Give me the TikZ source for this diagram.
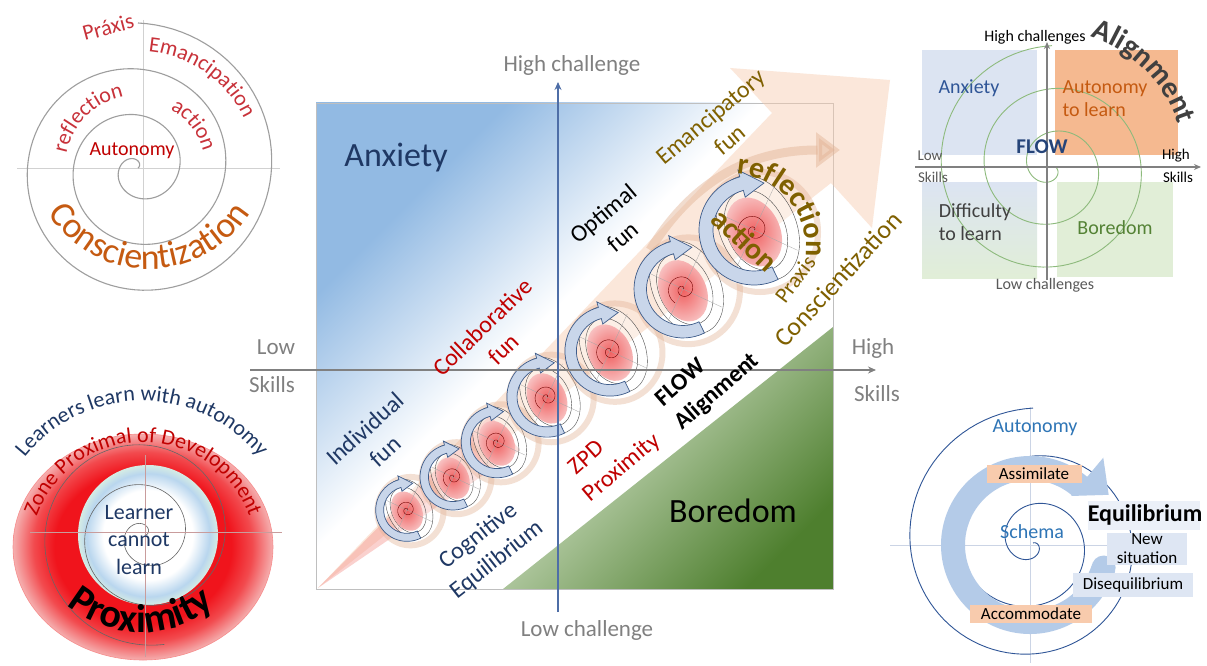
\documentclass[tikz,border=0pt]{standalone}
\usepackage{fontspec}
\setmainfont{Carlito}
\usetikzlibrary{arrows.meta,calc,decorations.text}
\definecolor{cRed}{HTML}{C00000}
\definecolor{cRedT}{HTML}{C8323A}
\definecolor{cOrange}{HTML}{C55A11}
\definecolor{cNavy}{HTML}{1F3864}
\definecolor{cBlueT}{HTML}{2E75B6}
\definecolor{cBlueA}{HTML}{2F5597}
\definecolor{cOlive}{HTML}{7F6000}
\definecolor{cGray}{HTML}{808080}
\definecolor{cDGray}{HTML}{404040}
\definecolor{cGreenT}{HTML}{548235}
\definecolor{qBlue}{HTML}{92BAE3}
\definecolor{qGreenD}{HTML}{4E7F2E}
\definecolor{qGreenL}{HTML}{EEF6E8}
\definecolor{peach}{HTML}{F8CBAD}
\definecolor{tanC}{HTML}{E2B294}
\definecolor{arrowFill}{HTML}{C9D6EA}
\definecolor{arrowLine}{HTML}{3E5C8A}
\definecolor{pinkIn}{HTML}{F06262}
\definecolor{pinkOut}{HTML}{F8C2C2}
\definecolor{pinkCone}{HTML}{F48C86}
\definecolor{bandBlue}{HTML}{B4CBE8}
\definecolor{boxPeach}{HTML}{F8CBAD}
\definecolor{boxBlue}{HTML}{DEE6F3}
\definecolor{ringRed}{HTML}{F0141C}
\definecolor{ringRed2}{HTML}{F24A4E}
\definecolor{ringPink}{HTML}{F5AFAF}
\definecolor{holeBlue}{HTML}{B9D6EE}
\definecolor{holeEdge}{HTML}{D5ECE4}
\definecolor{trBlue}{HTML}{DCE4F2}
\definecolor{trOrange}{HTML}{F5B990}
\definecolor{trGreen}{HTML}{E1EED7}
\definecolor{trSpiral}{HTML}{8DBA7C}
\pgfdeclareradialshading{donut}{\pgfpoint{0bp}{0bp}}{color(0bp)=(ringRed); color(17bp)=(ringRed); color(21bp)=(ringRed2); color(25bp)=(ringPink); color(50bp)=(ringPink)}
\pgfdeclareradialshading{hole}{\pgfpoint{0bp}{0bp}}{color(0bp)=(white); color(16bp)=(white); color(22bp)=(holeBlue); color(25bp)=(holeEdge); color(50bp)=(holeEdge)}
\pgfdeclareverticalshading{bfade}{100bp}{color(0bp)=(white); color(54bp)=(white); color(62bp)=(qBlue!45); color(72bp)=(qBlue); color(100bp)=(qBlue)}
\newcommand\fz[2]{\fontsize{#1}{#2}\selectfont}
\tikzset{
  lbl/.style={inner sep=0pt, align=center},
  xhair/.style={line width=.5pt, draw=black!18},
  mainaxis/.style={line width=1.4pt, -{Stealth[length=8pt,width=7pt]}},
  smallaxis/.style={line width=1.2pt, draw=black!50, -{Stealth[length=7pt,width=6pt]}},
  tagbox/.style={inner sep=0pt, minimum height=18pt, text=black, font=\fz{17}{19}},
  pics/spiralicon/.style={code={
    \draw[tanC, line width=6pt, opacity=.4] (6,-2) ellipse[x radius=58, y radius=60];
    \fill[white, opacity=.35] (4,2) ellipse[x radius=55, y radius=38, rotate=-65];
    \draw[black!70, line width=.4pt] (4,2) ellipse[x radius=55, y radius=38, rotate=-65];
    \draw[black!70, line width=.4pt] (2,0) ellipse[x radius=42, y radius=29, rotate=-65];
    \shade[inner color=pinkIn, outer color=pinkOut] (0,-2) ellipse[x radius=36, y radius=26, rotate=-65];
    \draw[black!35, line width=.3pt, rotate=-25] (-48,0) -- (48,0) (0,-50) -- (0,50);
    \draw[cRed!60!black, line width=.4pt] plot[domain=0:600, samples=80, variable=\t] ({\t/600*18*cos(\t)}, {\t/600*18*sin(\t)});
    \filldraw[fill=arrowFill, draw=arrowLine, line width=.7pt] (-64:55) arc[start angle=-64, end angle=-255, radius=55] -- (-255:62) -- (-282:48) -- (-255:34) -- (-255:41) arc[start angle=-255, end angle=-64, radius=41] -- cycle;
  }}
}
\begin{document}
\begin{tikzpicture}[x=1pt,y=1pt]
\useasboundingbox (0,0) rectangle (1207,-666);
\fill[white] (0,0) rectangle (1207,-666);

%%%%%%%%%%%%%%%% CENTRE %%%%%%%%%%%%%%%%
\shade[shading=bfade, shading angle=45] (316,-103) rectangle (833,-589);
\shade[top color=qGreenL, bottom color=qGreenD, shading angle=45] (503,-589) -- (833,-327) -- (833,-589) -- cycle;
\draw[black!25, line width=.5pt] (316,-103) rectangle (833,-589);
% big peach arrow
\fill[peach, opacity=.45] (318,-588) -- (772,-113) -- (730,-68) -- (890,-80) -- (872,-228) -- (831,-183) -- cycle;
% pink cone
\fill[pinkCone, opacity=.4] (318,-588) -- (490,-415) -- (520,-450) -- cycle;
% tan band arrow
\draw[tanC, opacity=.45, line width=9pt, -{Triangle[length=24pt,width=34pt]}] (650,-250) .. controls (690,-185) and (745,-150) .. (840,-150);

% spirals
\pic[scale=.57] (sp1) at (407,-510) {spiralicon};
\pic[scale=.60] (sp2) at (453,-477) {spiralicon};
\pic[scale=.65] (sp3) at (497,-442) {spiralicon};
\pic[scale=.73] (sp4) at (547,-397) {spiralicon};
\pic[scale=.82] (sp5) at (610,-351) {spiralicon};
\pic[scale=.89] (sp6) at (683,-289) {spiralicon};
\pic[scale=1] (sp7) at (754,-230) {spiralicon};

% axes
\coordinate (hL) at (250,-370); \coordinate (hR) at (876,-370);
\coordinate (vB) at (558,-612); \coordinate (vT) at (558,-82);
\draw[mainaxis, draw=black!50] (hL) -- (hR);
\draw[mainaxis, draw=cBlueA!85, line width=1.1pt] (vB) -- (vT);

\node[lbl, text=cGray, font=\fz{23}{27}] (hc) at (572,-65) {High challenge};
\node[lbl, text=cGray, font=\fz{23}{27}] (lc) at (587,-630) {Low challenge};
\node[lbl, text=cGray, font=\fz{23}{27}] (lowL) at (276,-347) {Low};
\node[lbl, text=cGray, font=\fz{23}{27}] (skL) at (272,-385) {Skills};
\node[lbl, text=cGray, font=\fz{23}{27}] (highR) at (873,-348) {High};
\node[lbl, text=cGray, font=\fz{23}{27}] (skR) at (877,-394) {Skills};

\node[lbl, text=cNavy, font=\fz{34}{40}] (anx) at (396,-158) {Anxiety};
\node[lbl, text=black, font=\fz{34}{40}] (bor) at (733,-511) {Boredom};

\node[lbl, rotate=42, text=cNavy, font=\fz{24}{30}] (indiv) at (375,-440) {Individual\\fun};
\node[lbl, rotate=44, text=cRed, font=\fz{24}{30}] (collab) at (493,-338) {Collaborative\\fun};
\node[lbl, rotate=40, text=black, font=\fz{24}{30}] (optim) at (613,-225) {Optimal\\fun};
\node[lbl, rotate=40, text=cOlive, font=\fz{24}{30}] (emanc) at (720,-128) {Emancipatory\\fun};
\node[lbl, rotate=38, text=cNavy, font=\fz{24}{30}] (cogn) at (488,-548) {Cognitive\\Equilibrium};
\node[lbl, rotate=42, text=cRed, font=\fz{24}{30}] (zpd) at (586,-457) {ZPD};
\node[lbl, rotate=40, text=cRed, font=\fz{24}{30}] (proxc) at (622,-468) {Proximity};
\node[lbl, rotate=41, text=black, font=\bfseries\fz{24}{30}] (flow) at (680,-382) {FLOW};
\node[lbl, rotate=41, text=black, font=\bfseries\fz{24}{30}] (alignc) at (717,-392) {Alignment};
\node[lbl, rotate=53, text=cOlive, font=\fz{22}{26}] (praxc) at (795,-279) {Praxis};
\node[lbl, rotate=47, text=cOlive, font=\fz{26}{30}] (consc) at (838,-279) {Conscientization};
\node[lbl, rotate=-43, text=cOlive, font=\bfseries\fz{30}{34}] (actc) at (745,-240) {action};
\coordinate (R7) at (733,-247);
\path[decorate, decoration={text along path, text align=center, text={|\bfseries\fz{30}{34}\color{cOlive}|reflection}}] ($(R7)+(95:73)$) arc[start angle=95, end angle=-15, radius=73];

%%%%%%%%%%%%%%%% TOP LEFT %%%%%%%%%%%%%%%%
\coordinate (C1) at (138,-168);
\draw[xhair] (17,-168) -- (280,-168);
\draw[xhair] (143,-20) -- (143,-258);
\draw[black!38, line width=1.1pt] plot[domain=0:1135, samples=320, variable=\t] ({138+\t/360*46*cos(35+\t)}, {-168+\t/360*46*sin(35+\t)});
\node[lbl, rotate=15, text=cRedT, font=\fz{22}{26}] (praxTL) at (108,-27) {Práxis};
\node[lbl, text=cRed, font=\fz{20}{24}] (autoTL) at (132,-151) {Autonomy};
\path[decorate, decoration={text along path, text align=center, text={|\fz{22}{26}\color{cRedT}|Emancipation}}] ($(C1)+(110:117)$) arc[start angle=110, end angle=0, radius=117];
\path[decorate, decoration={text along path, text align=center, text={|\fz{22}{26}\color{cRedT}|reflection}}] ($(C1)+(190:73)$) arc[start angle=190, end angle=80, radius=73];
\path[decorate, decoration={text along path, text align=center, text={|\fz{22}{26}\color{cRedT}|action}}] ($(C1)+(80:67)$) arc[start angle=80, end angle=-5, radius=67];
\coordinate (C1b) at (149,-150);
\path[decorate, decoration={text along path, text align=center, text={|\fz{36}{40}\color{cOrange}|Conscientization}}] ($(C1b)+(180:119)$) arc[start angle=180, end angle=360, radius=119];

%%%%%%%%%%%%%%%% TOP RIGHT %%%%%%%%%%%%%%%%
\fill[trBlue] (922,-50) rectangle (1037,-155);
\fill[trOrange] (1055,-50) rectangle (1178,-155);
\shade[top color=trBlue, bottom color=trGreen] (922,-182) rectangle (1037,-278);
\fill[trGreen] (1057,-182) rectangle (1173,-277);
\draw[trSpiral, line width=.9pt] plot[domain=0:1016, samples=280, variable=\t] ({1052+\t/360*43*cos(26-\t)}, {-167+\t/360*43*sin(26-\t)});
\coordinate (thL) at (915,-167); \coordinate (thR) at (1201,-167);
\coordinate (tvB) at (1047,-280); \coordinate (tvT) at (1047,-42);
\draw[smallaxis] (thL) -- (thR);
\draw[smallaxis] (tvB) -- (tvT);
\node[lbl, text=black, font=\fz{16}{19}] (thc) at (1035,-37) {High challenges};
\node[lbl, text=black!65, font=\fz{16}{19}] (tlc) at (1045,-285) {Low challenges};
\node[lbl, text=black!65, font=\fz{15}{18}] (tlow) at (930,-156) {Low};
\node[lbl, text=black!65, font=\fz{15}{18}] (tskl) at (933,-177) {Skills};
\node[lbl, text=black, font=\fz{15}{18}] (thigh) at (1176,-156) {High};
\node[lbl, text=black, font=\fz{15}{18}] (tskr) at (1178,-177) {Skills};
\node[lbl, text=cBlueA, font=\fz{20}{24}] (tanx) at (969,-88) {Anxiety};
\node[lbl, align=left, text=cOrange, font=\fz{20}{23}] (tauto) at (1105,-99) {Autonomy\\to learn};
\node[lbl, text=cBlueA!80!black, font=\bfseries\fz{21}{24}] (tflow) at (1042,-147) {FLOW};
\node[lbl, align=left, text=cDGray, font=\fz{20}{23}] (tdiff) at (975,-222) {Difficulty\\to learn};
\node[lbl, text=cGreenT, font=\fz{20}{24}] (tbor) at (1115,-228) {Boredom};
\coordinate (C2) at (1048,-167);
\path[decorate, decoration={text along path, text align=center, text={|\bfseries\fz{30}{34}\color{cDGray}|Alignment}}] ($(C2)+(107:137)$) arc[start angle=107, end angle=-17, radius=137];

%%%%%%%%%%%%%%%% BOTTOM LEFT %%%%%%%%%%%%%%%%
\shade[shading=donut] (143,-547) ellipse[x radius=130, y radius=113];
\draw[ringPink!80!red, line width=.6pt] (143,-547) ellipse[x radius=130, y radius=113];
\shade[shading=hole] (148,-535) circle (70);
\draw[black!60, line width=.6pt] plot[domain=0:1000, samples=280, variable=\t] ({145+\t/360*40*cos(\t)}, {-535+\t/360*40*sin(\t)});
\draw[line width=.5pt, draw=red!30!gray!60] (30,-532) -- (282,-532);
\draw[line width=.5pt, draw=red!30!gray!60] (145,-455) -- (145,-657);
\node[lbl, text=cNavy, font=\fz{22}{27.5}] (lcl) at (139,-540) {Learner\\cannot\\learn};
\coordinate (C3a) at (142,-551);
\path[decorate, decoration={text along path, text align=center, text={|\fz{22}{26}\color{cNavy}|Learners learn with autonomy}}] ($(C3a)+(175:150)$) arc[start angle=175, end angle=5, radius=150];
\coordinate (C3b) at (143,-555);
\path[decorate, decoration={text along path, text align=center, text={|\fz{22}{26}\color{cRed}|Zone Proximal of Development}}] ($(C3b)+(180:113)$) arc[start angle=180, end angle=0, radius=113];
\coordinate (C3c) at (141,-517);
\path[decorate, decoration={text along path, text align=center, text={|\bfseries\fz{40}{44}\color{black}|Proximity}}] ($(C3c)+(190:115)$) arc[start angle=190, end angle=350, radius=115];

%%%%%%%%%%%%%%%% BOTTOM RIGHT %%%%%%%%%%%%%%%%
\coordinate (C4) at (1030,-545);
\draw[line width=.5pt, draw=cBlueA!25] (890,-545) -- (1120,-545);
\draw[line width=.5pt, draw=cBlueA!25] (1030,-407) -- (1030,-663);
\draw[cBlueA, line width=.9pt] plot[domain=0:1012, samples=280, variable=\t] ({1033+\t/360*48*cos(22-\t)}, {-543+\t/360*48*sin(22-\t)});
\fill[bandBlue] ($(C4)+(-17:89)$) arc[start angle=-17, end angle=-310, radius=89] -- ($(C4)+(50:114)$) -- ($(C4)+(50:89)+(-40:28)$) -- ($(C4)+(50:64)$) -- ($(C4)+(50:65)$) arc[start angle=-310, end angle=-17, radius=65] -- cycle;
\fill[bandBlue] ($(C4)+(-17:77)$) circle (12);
\fill[boxBlue!60] (1088,-501) rectangle (1200,-530);
\node[lbl, text=cBlueT, font=\fz{20}{24}] (brauto) at (1035,-428) {Autonomy};
\node[tagbox, fill=boxPeach, minimum width=95pt] (assim) at (1034,-474) {Assimilate};
\node[tagbox, fill=boxPeach, minimum width=122pt] (accom) at (1031,-614) {Accommodate};
\node[lbl, text=cBlueT, font=\fz{20}{24}] (schema) at (1032,-532) {Schema};
\node[lbl, text=black, font=\bfseries\fz{24}{28}] (equil) at (1145,-515) {Equilibrium};
\node[lbl, fill=boxBlue, minimum width=80pt, minimum height=32pt, font=\fz{17}{19}] (newsit) at (1147,-549) {New\\situation};
\node[tagbox, fill=boxBlue, minimum width=120pt, minimum height=24pt] (diseq) at (1133,-585) {Disequilibrium};
\end{tikzpicture}
\end{document}
